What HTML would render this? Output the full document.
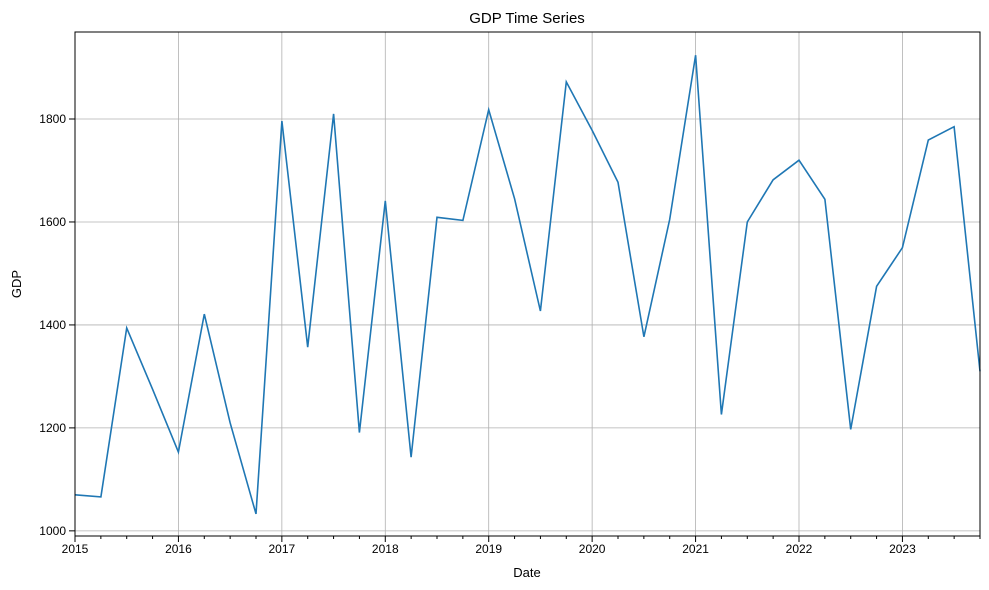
<!DOCTYPE html>
<html><head><meta charset="utf-8"><style>
body{margin:0;background:#fff;}
svg{display:block;font-family:"Liberation Sans","DejaVu Sans",sans-serif;}
</style></head><body>
<svg id="chart" width="989" height="590">
<text x="527" y="23" text-anchor="middle" font-size="15">GDP Time Series</text>
<text x="527" y="577" text-anchor="middle" font-size="13">Date</text>
<text x="21" y="284" text-anchor="middle" font-size="13" transform="rotate(-90 21 284)">GDP</text>
<g id="grid"></g><g id="axes"></g><g id="series"></g>
<rect x="75" y="32" width="905" height="504" fill="none" stroke="#000" stroke-width="1"/>
</svg>
<script>
const years=[2015,2016,2017,2018,2019,2020,2021,2022,2023];
const yTicks=[1000,1200,1400,1600,1800];
const gdp=[1070,1066,1394,1275,1153,1421,1210,1033,1796,1357,1810,1191,1641,1143,1609,1603,1818,1645,1427,1872,1778,1677,1377,1605,1924,1226,1600,1682,1720,1644,1197,1475,1550,1759,1785,1310];
const L=75,R=980,T=32,B=536;
const x0=2015,x1=2023.75,y0=990,y1=1969;
const xs=t=>L+(t-x0)/(x1-x0)*(R-L);
const ys=v=>B-(v-y0)/(y1-y0)*(B-T);
const NS="http://www.w3.org/2000/svg";
function mk(tag,attrs,parent){const e=document.createElementNS(NS,tag);for(const k in attrs)e.setAttribute(k,attrs[k]);parent.appendChild(e);return e;}
const grid=document.getElementById('grid'),axes=document.getElementById('axes'),series=document.getElementById('series');
years.forEach(y=>{const x=xs(y);
 const g=mk('line',{x1:x,x2:x,y1:T,y2:B,stroke:'#b0b0b0','stroke-width':0.8},grid);
 
 
 mk('line',{x1:x,x2:x,y1:B,y2:B+6,stroke:'#000'},axes);
 const t=mk('text',{x:x,y:B+17,'text-anchor':'middle','font-size':12},axes);t.textContent=y;
 
 
 for(let q=1;q<4;q++){const xq=xs(y+q/4);if(xq<=R+0.5)mk('line',{x1:xq,x2:xq,y1:B,y2:B+3,stroke:'#000'},axes);}
});
yTicks.forEach(v=>{const y=ys(v);
 const g=mk('line',{x1:L,x2:R,y1:y,y2:y,stroke:'#b0b0b0','stroke-width':0.8},grid);
 
 
 mk('line',{x1:L-6,x2:L,y1:y,y2:y,stroke:'#000'},axes);
 const t=mk('text',{x:L-9,y:y+4,'text-anchor':'end','font-size':12},axes);t.textContent=v;
 
 
});
const pts=gdp.map((v,i)=>xs(x0+i/4).toFixed(1)+','+ys(v).toFixed(1)).join(' ');
const line=mk('polyline',{points:pts,fill:'none',stroke:'#1f77b4','stroke-width':1.6},series);


</script>
</body></html>
